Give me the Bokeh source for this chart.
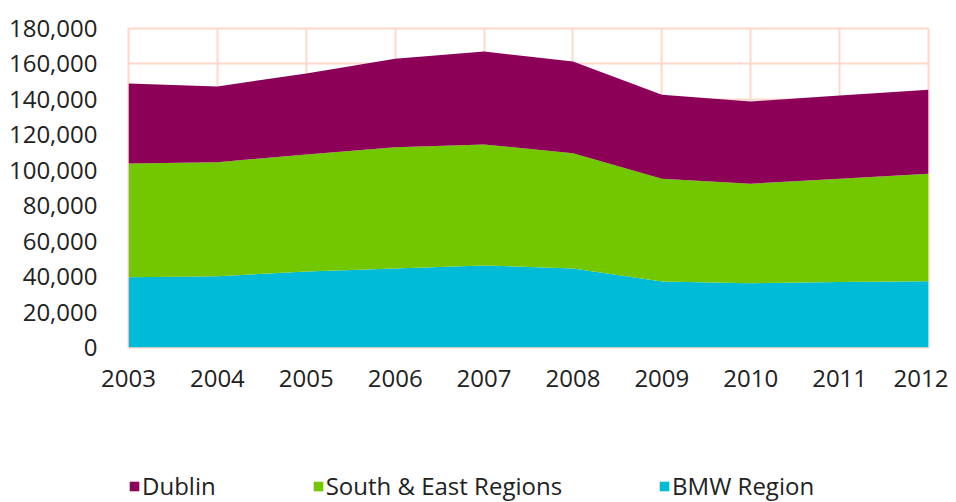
from bokeh.plotting import figure
from bokeh.layouts import column
from bokeh.models import (ColumnDataSource, Range1d, FixedTicker, NumeralTickFormatter,
                          Legend, LegendItem)
from bokeh.embed import file_html
from bokeh.resources import INLINE

years = [2003, 2004, 2005, 2006, 2007, 2008, 2009, 2010, 2011, 2012]
bmw_region = [39700, 40200, 42900, 44600, 46300, 44600, 37200, 36300, 36900, 37400]
south_east = [64100, 64400, 66000, 68400, 68300, 65000, 58000, 56100, 58300, 60600]
dublin = [45100, 42700, 45700, 49900, 52400, 51800, 47400, 46400, 47000, 47400]

series_names = ["BMW Region", "South & East Regions", "Dublin"]
series_colors = ["#00BBD7", "#72C700", "#8D0057"]
y_ticks = [0, 20000, 40000, 60000, 80000, 100000, 120000, 140000, 160000, 180000]

source = ColumnDataSource(dict(year=years, bmw=bmw_region, se=south_east, dub=dublin))

FONT = "Open Sans"
TEXT = "#222222"
GRID = "#FFD8CA"

# ---- main chart ----
p = figure(width=948, height=410, x_range=Range1d(2003, 2012), y_range=Range1d(0, 180000),
           output_backend="svg", toolbar_location=None,
           min_border_left=128, min_border_right=20, min_border_top=28, min_border_bottom=63)

renderers = p.varea_stack(stackers=["bmw", "se", "dub"], x="year", color=series_colors,
                          source=source)

p.xaxis.ticker = FixedTicker(ticks=years)
p.yaxis.ticker = FixedTicker(ticks=y_ticks)
p.yaxis.formatter = NumeralTickFormatter(format="0,0")
for ax in (p.xaxis, p.yaxis):
    ax.axis_line_color = None
    ax.major_tick_line_color = None
    ax.minor_tick_line_color = None
    ax.major_label_text_font = FONT
    ax.major_label_text_font_size = "24px"
    ax.major_label_text_color = TEXT
p.xaxis.major_label_standoff = 16
p.yaxis.major_label_standoff = 25

p.xgrid.grid_line_color = GRID
p.ygrid.grid_line_color = GRID
p.xgrid.grid_line_width = 2
p.ygrid.grid_line_width = 2
p.outline_line_color = GRID
p.outline_line_width = 2
p.background_fill_color = "white"
p.border_fill_color = "white"

# ---- legend strip below the chart (its frame is aligned with the chart's) ----
p2 = figure(width=948, height=92, x_range=Range1d(0, 1), y_range=Range1d(0, 1),
            output_backend="svg", toolbar_location=None,
            x_axis_location=None, y_axis_location=None,
            min_border_left=0, min_border_right=0, min_border_top=0, min_border_bottom=0)
p2.grid.visible = False
p2.outline_line_color = None
p2.background_fill_color = "white"
p2.border_fill_color = "white"

# swatch renderers for the legend only (their areas lie outside the visible range)
swatches = []
for c in series_colors:
    swatches.append(p2.varea(x=[5, 6], y1=[5, 5], y2=[5, 5], fill_color=c))

items = [LegendItem(label=series_names[i], renderers=[swatches[i]]) for i in (2, 1, 0)]
legend = Legend(items=items, orientation="horizontal", location=(0, 0),
                glyph_width=12, glyph_height=12, label_standoff=2, spacing=96,
                padding=0, margin=0, border_line_color=None, background_fill_alpha=0,
                label_text_font=FONT, label_text_font_size="24px", label_text_color=TEXT)
p2.add_layout(legend, "center")

layout = column(p, p2, spacing=0)
open("out.html", "w").write(file_html(layout, INLINE))
